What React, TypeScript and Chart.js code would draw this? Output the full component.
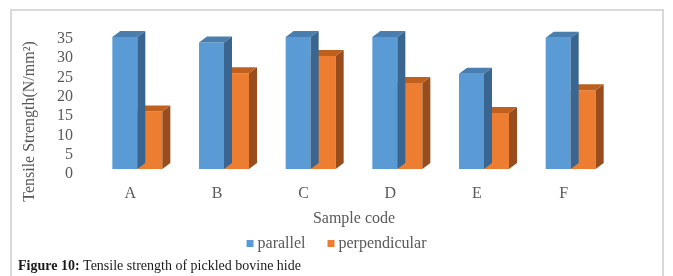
import { useEffect, useRef } from 'react';
import { Chart, registerables } from 'chart.js';

Chart.register(...registerables);

const categories = ['A', 'B', 'C', 'D', 'E', 'F'];
const parallel = [34.2, 32.8, 34.2, 34.2, 24.7, 34.0];
const perpendicular = [14.9, 24.8, 29.3, 22.3, 14.5, 20.4];
const seriesNames = ['parallel', 'perpendicular'];
const yMin = 0;
const yMax = 35;
const yStep = 5;
const yTitle = 'Tensile Strength(N/mm\u00B2)';
const xTitle = 'Sample code';
const captionBold = 'Figure 10:';
const captionRest = ' Tensile strength of pickled bovine hide';

const FONT = "'Liberation Serif', 'Times New Roman', serif";
const GRAY = '#595959';
const frontColors = ['#5b9bd5', '#ed7d31'];
const topColors = ['#4a7eae', '#c0601f'];
const sideColors = ['#3a6590', '#994d1c'];
const DX = 8;
const DY = 6;

const threeD = {
  id: 'threeD',
  afterDatasetDraw(chart: any, args: any) {
    const meta = chart.getDatasetMeta(args.index);
    const ctx = chart.ctx;
    meta.data.forEach((bar: any) => {
      const { x, y, base, width } = bar.getProps(['x', 'y', 'base', 'width'], true);
      const l = x - width / 2;
      const r = x + width / 2;
      ctx.save();
      ctx.fillStyle = topColors[args.index];
      ctx.beginPath();
      ctx.moveTo(l, y);
      ctx.lineTo(l + DX, y - DY);
      ctx.lineTo(r + DX, y - DY);
      ctx.lineTo(r, y);
      ctx.closePath();
      ctx.fill();
      ctx.fillStyle = sideColors[args.index];
      ctx.beginPath();
      ctx.moveTo(r, y);
      ctx.lineTo(r + DX, y - DY);
      ctx.lineTo(r + DX, base - DY);
      ctx.lineTo(r, base);
      ctx.closePath();
      ctx.fill();
      ctx.restore();
    });
  },
};

const decorations = {
  id: 'decorations',
  afterDraw(chart: any) {
    const ctx = chart.ctx;
    ctx.save();
    // frame
    ctx.strokeStyle = '#d9d9d9';
    ctx.lineWidth = 2;
    ctx.strokeRect(11, 10, 652, 400);

    // y title
    ctx.save();
    ctx.translate(30, 121.5);
    ctx.rotate(-Math.PI / 2);
    ctx.font = `16px ${FONT}`;
    ctx.fillStyle = GRAY;
    ctx.textAlign = 'center';
    ctx.textBaseline = 'middle';
    ctx.fillText(yTitle, 0, 0);
    ctx.restore();

    // legend
    ctx.font = `16px ${FONT}`;
    ctx.textBaseline = 'middle';
    ctx.textAlign = 'left';
    const box = 7;
    const gapText = 4;
    const gapItem = 22;
    const widths = chart.data.datasets.map((d: any) => ctx.measureText(d.label).width);
    let total = 0;
    widths.forEach((w: number, i: number) => {
      total += box + gapText + w + (i < widths.length - 1 ? gapItem : 0);
    });
    let x = chart.width / 2 - total / 2;
    const cy = 243.5;
    chart.data.datasets.forEach((d: any, i: number) => {
      ctx.fillStyle = d.backgroundColor;
      ctx.fillRect(x, cy - box / 2, box, box);
      x += box + gapText;
      ctx.fillStyle = GRAY;
      ctx.fillText(d.label, x, cy + 0.5);
      x += widths[i] + gapItem;
    });

    // caption
    ctx.textBaseline = 'alphabetic';
    ctx.fillStyle = '#1a1a1a';
    ctx.font = `bold 14px ${FONT}`;
    ctx.fillText(captionBold, 18, 270);
    const bw = ctx.measureText(captionBold).width;
    ctx.font = `14px ${FONT}`;
    ctx.fillText(captionRest, 18 + bw, 270);
    ctx.restore();
  },
};

export default function App() {
  const ref = useRef<HTMLCanvasElement>(null);
  useEffect(() => {
    document.body.style.margin = '0';
    const canvas = ref.current!;
    const chart = new Chart(canvas, {
      type: 'bar',
      data: {
        labels: categories,
        datasets: [
          { label: seriesNames[0], data: parallel, backgroundColor: frontColors[0], borderWidth: 0 },
          { label: seriesNames[1], data: perpendicular, backgroundColor: frontColors[1], borderWidth: 0 },
        ],
      },
      options: {
        responsive: false,
        animation: false,
        maintainAspectRatio: false,
        layout: { padding: { left: 0, right: 59, top: 34, bottom: 47.7 } },
        datasets: { bar: { categoryPercentage: 0.577, barPercentage: 1 } },
        plugins: {
          legend: { display: false },
          tooltip: { enabled: false },
          title: { display: false },
        },
        scales: {
          x: {
            grid: { display: false, drawTicks: false },
            border: { display: false },
            ticks: { color: GRAY, font: { family: FONT, size: 16 }, padding: 15, labelOffset: -7 },
            title: { display: true, text: xTitle, color: GRAY, font: { family: FONT, size: 16 }, padding: 0 },
            afterFit(scale: any) {
              scale.height = 59.3;
            },
          },
          y: {
            min: yMin,
            max: yMax,
            grid: { display: false, drawTicks: false },
            border: { display: false },
            ticks: {
              stepSize: yStep,
              autoSkip: false,
              color: GRAY,
              font: { family: FONT, size: 16 },
              padding: 21,
              labelOffset: 5,
            },
            afterFit(scale: any) {
              scale.width = 94;
            },
          },
        },
      },
      plugins: [threeD, decorations],
    });
    return () => chart.destroy();
  }, []);
  return <canvas ref={ref} width={673} height={276} style={{ display: 'block' }} />;
}
